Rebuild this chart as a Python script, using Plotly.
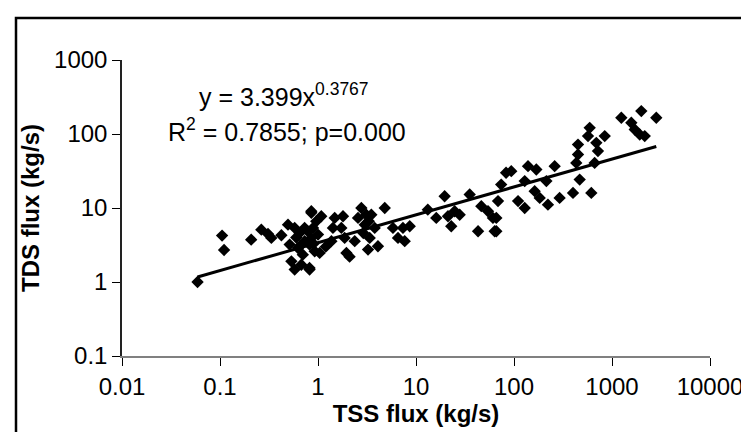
import numpy as np
import plotly.graph_objects as go

# TSS flux (kg/s) and TDS flux (kg/s)
tss = [0.059, 0.105, 0.11, 0.208, 0.264, 0.309, 0.334, 0.423, 0.494, 0.578,
       0.65, 0.73, 0.855, 0.96, 0.514, 0.625, 0.73, 0.855, 0.535, 0.578,
       0.676, 0.82, 0.70, 0.925,
       0.855, 1.08, 0.89, 1.0, 0.82, 1.04, 0.82, 1.48, 1.8, 1.42,
       1.73, 1.87, 1.37, 1.95, 2.37, 2.77, 3.11, 2.56, 3.5, 3.0,
       3.79, 3.37, 3.24, 4.09, 4.8, 5.82, 6.55, 7.67, 8.63, 7.36,
       13.2, 19.6, 16.1, 21.2, 24.8, 22.9, 27.9, 35.3, 46.4, 54.3,
       66, 43, 66, 74, 83,
       63.5, 61, 68.7, 93.8, 110, 128.6, 139, 169, 128.6, 162.5,
       183, 222, 214, 260, 292, 400, 468, 615, 450, 450,
       432, 569, 592, 692, 719, 665, 843, 1245, 1991, 2830,
       1574, 1706, 1918, 2158,
       0.6, 0.78, 0.66, 0.9, 2.1, 2.9, 3.3, 1.2]
tds = [1.0, 4.24, 2.71, 3.73, 5.10, 4.46, 3.94, 4.28, 5.96, 5.38,
       4.6, 5.38, 8.6, 6.6, 3.2, 2.88, 3.56, 3.94, 1.9, 1.47,
       1.71, 1.47, 2.34, 2.6,
       9.05, 7.74, 5.38, 4.37, 3.2, 2.47, 1.55, 7.35, 7.74, 5.38,
       5.38, 3.94, 3.56, 2.47, 3.56, 10.0, 8.1, 7.35, 8.1, 5.96,
       5.38, 3.94, 2.74, 3.04, 10.0, 5.38, 3.94, 3.56, 5.67, 5.38,
       9.5, 14.4, 7.35, 7.74, 9.05, 5.67, 8.1, 15.2, 10.6, 9.05,
       7.35, 4.85, 4.85, 20.7, 29.9,
       4.85, 7.35, 12.4, 31.5, 12.4, 10.0, 36.8, 33.1, 23.1, 16.9,
       13.7, 11.1, 23.1, 36.8, 13.7, 16.0, 24.2, 16.0, 72, 52.8,
       40.7, 93.7, 121, 76, 58.7, 40.7, 93.7, 166, 204, 166,
       142, 115, 98.5, 93.7,
       4.0, 4.9, 3.1, 3.3, 2.2, 4.6, 6.6, 3.0]

# Power-law fit reported on the chart: y = a * x^b
fit_a = 3.399
fit_b = 0.3767

x_ticks = [0.01, 0.1, 1, 10, 100, 1000, 10000]
x_tick_text = ["0.01", "0.1", "1", "10", "100", "1000", "10000"]
y_ticks = [0.1, 1, 10, 100, 1000]
y_tick_text = ["0.1", "1", "10", "100", "1000"]

fit_x = np.logspace(np.log10(min(tss)), np.log10(max(tss)), 60)
fit_y = fit_a * fit_x ** fit_b

FONT = "Liberation Sans, Arial, sans-serif"

fig = go.Figure()
fig.add_trace(go.Scatter(
    x=tss, y=tds, mode="markers",
    marker=dict(symbol="diamond", size=9.5, color="black",
                line=dict(width=0)),
    showlegend=False, hoverinfo="x+y"))
fig.add_trace(go.Scatter(
    x=fit_x, y=fit_y, mode="lines",
    line=dict(color="black", width=3),
    showlegend=False, hoverinfo="skip"))

W, H = 749, 432
L, R, T, B = 114, 47, 52, 84
pw, ph = W - L - R, H - T - B

def px(xp):
    return (xp - L) / pw

def py(yp):
    return (H - B - yp) / ph

fig.update_layout(
    width=W, height=H,
    margin=dict(l=L, r=R, t=T, b=B, pad=0),
    paper_bgcolor="white", plot_bgcolor="white",
    font=dict(family=FONT, size=24, color="black"),
    xaxis=dict(
        type="log", range=[-2, 4],
        tickvals=x_ticks, ticktext=x_tick_text,
        ticks="outside", ticklen=8, tickwidth=1, tickcolor="black",
        showline=True, linecolor="#808080", linewidth=2,
        showgrid=False, zeroline=False,
        tickfont=dict(family=FONT, size=24, color="black"),
        title=dict(text="<b>TSS flux (kg/s)</b>", standoff=6,
                   font=dict(family=FONT, size=24, color="black")),
    ),
    yaxis=dict(
        type="log", range=[-1, 3],
        tickvals=y_ticks, ticktext=y_tick_text,
        ticks="outside", ticklen=8, tickwidth=1, tickcolor="black",
        showline=True, linecolor="#222222", linewidth=1.5,
        showgrid=False, zeroline=False,
        tickfont=dict(family=FONT, size=24, color="black"),
        title=dict(text="<b>TDS flux (kg/s)</b>", standoff=8,
                   font=dict(family=FONT, size=24, color="black")),
    ),
    annotations=[
        dict(xref="paper", yref="paper", x=px(276), y=py(87),
             xanchor="center", yanchor="middle", showarrow=False,
             text="y = 3.399x<sup>0.3767</sup>",
             font=dict(family=FONT, size=25, color="black")),
        dict(xref="paper", yref="paper", x=px(279), y=py(122),
             xanchor="center", yanchor="middle", showarrow=False,
             text="R<sup>2</sup> = 0.7855; p=0.000",
             font=dict(family=FONT, size=25, color="black")),
    ],
    shapes=[
        dict(type="rect", xref="paper", yref="paper",
             x0=px(8), x1=px(760), y0=py(445), y1=py(10),
             line=dict(color="black", width=2.5), fillcolor="rgba(0,0,0,0)",
             layer="below"),
    ],
)

fig.write_html("out.html")
